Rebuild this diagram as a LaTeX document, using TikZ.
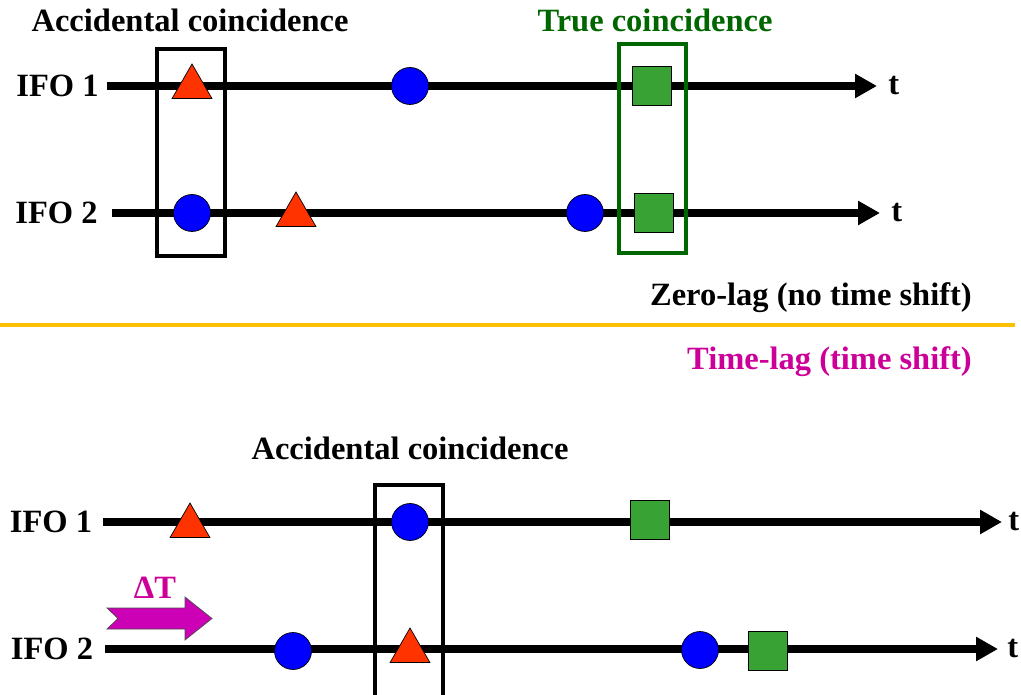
\documentclass[tikz,border=0pt]{standalone}
\usepackage{fontspec}
\setmainfont{Liberation Serif}
\usetikzlibrary{arrows.meta,positioning,shapes.geometric}
\definecolor{evred}{RGB}{255,51,0}
\definecolor{evblue}{RGB}{0,0,255}
\definecolor{evgreen}{RGB}{56,163,52}
\definecolor{truegreen}{RGB}{0,102,0}
\definecolor{lagmag}{RGB}{204,0,153}
\definecolor{shiftmag}{RGB}{204,0,180}
\definecolor{sepyellow}{RGB}{255,192,0}

\begin{document}
\begin{tikzpicture}[
   x=0.02cm, y=-0.02cm,
   every node/.style={font=\fontsize{18.5}{22}\selectfont\bfseries},
   ifo/.style={anchor=east, inner ysep=0.09cm},
   timeline/.style={line width=4pt, -{Triangle[length=0.44cm, width=0.46cm]}},
   tri/.style={regular polygon, regular polygon sides=3, draw=black, thin,
               fill=evred, minimum size=0.92cm, inner sep=0},
   dot/.style={circle, draw=black, thin, fill=evblue, minimum size=0.74cm, inner sep=0},
   sq/.style={rectangle, draw=black, thin, fill=evgreen, minimum size=0.78cm, inner sep=0},
   coinc/.style={rectangle, draw=black, line width=2.3pt, minimum width=1.36cm, inner sep=0},
   tlabel/.style={anchor=west, inner sep=0}
]
\useasboundingbox (0,0) rectangle (1021,695);

% Zero-lag: timelines
\node[ifo, inner xsep=0.16cm] (ifoA) at (107,86) {IFO 1};
\node[ifo, inner xsep=0.28cm] (ifoB) at (112,213) {IFO 2};
\coordinate (endA) at (877,86);
\coordinate (endB) at (880,213);
\draw[timeline] (ifoA) -- (endA);
\draw[timeline] (ifoB) -- (endB);
\node[tlabel, right=0.22cm of endA] (tA) {t};
\node[tlabel, right=0.22cm of endB] (tB) {t};

% Zero-lag: events
\node[tri] (triA) at (192,87) {};
\node[dot] (dotA) at (410,86) {};
\node[sq]  (sqA)  at (652,86) {};
\node[dot] (dotB1) at (192,213) {};
\node[tri] (triB) at (296,215) {};
\node[dot] (dotB2) at (585,213) {};
\node[sq]  (sqB)  at (654,213) {};

% Zero-lag: coincidence windows
\node[coinc, minimum height=4.14cm] (accA) at (191,152.5) {};
\node[coinc, draw=truegreen, line width=2.8pt, minimum width=1.34cm,
      minimum height=4.18cm] (trueA) at (652.5,148.5) {};
\node (accAlbl) at (190,20) {Accidental coincidence};
\node[text=truegreen] (trueAlbl) at (655,20) {True coincidence};

% Separator
\node[anchor=east] (zerolag) at (978,298) {Zero-lag (no time shift)};
\coordinate (sepL) at (0,325);
\coordinate (sepR) at (1015,325);
\draw[sepyellow, line width=2.3pt] (sepL) -- (sepR);
\node[anchor=east, text=lagmag] (timelag) at (978,362) {Time-lag (time shift)};

% Time-lag: timelines
\node[ifo, inner xsep=0.21cm] (ifoC) at (103,522) {IFO 1};
\node[ifo, inner xsep=0.23cm] (ifoD) at (105,649) {IFO 2};
\coordinate (endC) at (1002,522);
\coordinate (endD) at (998,649);
\draw[timeline] (ifoC) -- (endC);
\draw[timeline] (ifoD) -- (endD);
\node[tlabel, right=0.12cm of endC] (tC) {t};
\node[tlabel, right=0.18cm of endD] (tD) {t};

% Time-lag: events
\node[tri] (triC) at (190,526) {};
\node[dot] (dotC) at (410,522) {};
\node[sq]  (sqC)  at (650,520) {};
\node[dot] (dotD1) at (293,651) {};
\node[tri] (triD) at (410,651) {};
\node[dot] (dotD2) at (700,650) {};
\node[sq]  (sqD)  at (768,651) {};

% Time-lag: coincidence window
\node[coinc, minimum height=4.7cm] (accC) at (409,602.5) {};
\node (accClbl) at (410,448) {Accidental coincidence};

% Shift arrow
\draw[draw=black!70, thin, fill=shiftmag]
  (107,608) -- (185,608) -- (185,597) -- (212,618.5) -- (185,640)
  -- (185,629) -- (107,629) -- (118,618.5) -- cycle;
\node[text=lagmag] (shiftlbl) at (155,588) {ΔT};
\end{tikzpicture}
\end{document}
